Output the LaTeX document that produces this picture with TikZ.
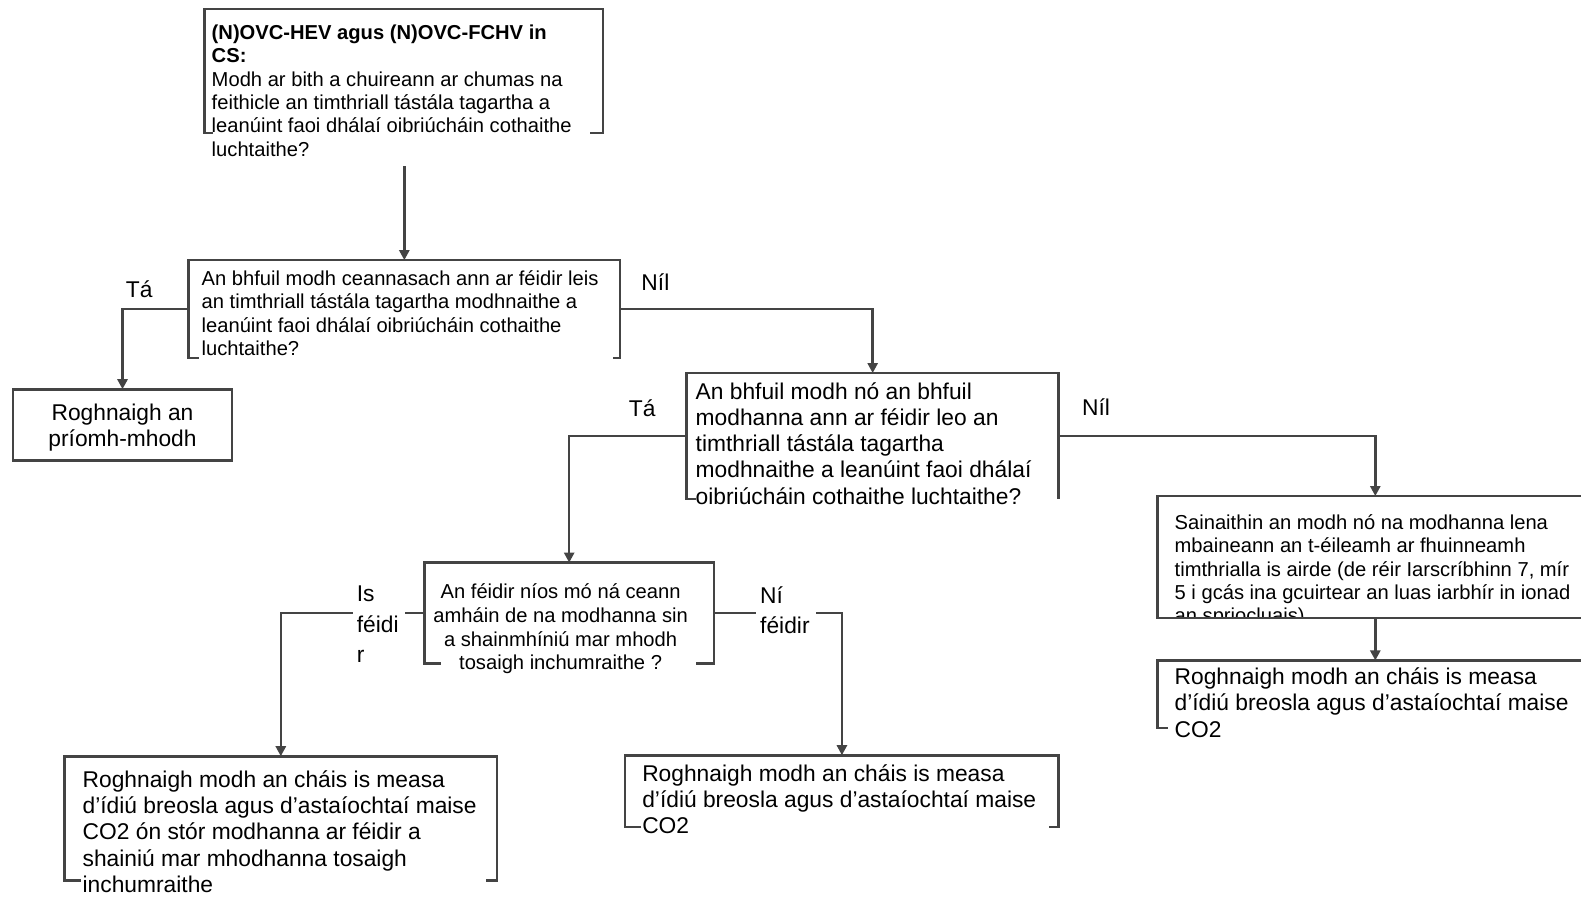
\documentclass[tikz,border=0pt]{standalone}
\usepackage{fontspec}
\setmainfont{Liberation Sans}
\usetikzlibrary{arrows.meta,calc,fit}
\definecolor{lc}{RGB}{68,68,68}
\newcommand\fA{\fontsize{10.08pt}{11.7pt}\selectfont}
\newcommand\fB{\fontsize{11.39pt}{13.1pt}\selectfont}
\newcommand\fC{\fontsize{10.08pt}{11.84pt}\selectfont}
\newcommand\tb[2]{\parbox[t]{#1}{\raggedright #2}}
\newcommand\tc[2]{\parbox[t]{#1}{\centering #2}}
\newcommand\openbox[3]{\draw[ln] ($(#1.south west)+(#2,0)$) -- (#1.south west) -- (#1.north west) -- (#1.north east) -- (#1.south east) -- ($(#1.south east)+(-#3,0)$);}
\begin{document}
\begin{tikzpicture}[x=0.504pt,y=-0.504pt,
  ln/.style={draw=lc, line width=1.3pt},
  arr/.style={ln, -{Triangle[length=5pt,width=5pt]}},
  area/.style={inner sep=0pt, outer sep=0pt},
  txt/.style={inner sep=0pt, outer sep=0pt, anchor=base west, text=black},
  lab/.style={inner sep=0pt, text=black, font=\fB},
  cut/.style={fill=white, inner xsep=2pt, inner ysep=0pt, outer sep=0pt, anchor=base west, text=black, font=\fB}]
\useasboundingbox (0,0) rectangle (1568,889);
\clip (0,0) rectangle (1568,889);
\fill[white] (0,0) rectangle (1568,889);
% box areas
\node[area, fit={(203,9)(598,132)}] (b1) {};
\node[area, fit={(187,258)(615,355)}] (b2) {};
\node[area, fit={(13,386)(230,457)}] (r1) {};
\node[area, fit={(681,370)(1050,495)}] (b3) {};
\node[area, fit={(1148,492)(1580,613)}] (b5) {};
\node[area, fit={(1148,655)(1580,722)}] (b6) {};
\node[area, fit={(421,558)(708,658)}] (b4) {};
\node[area, fit={(64,750)(493,873)}] (b7) {};
\node[area, fit={(620,749)(1050,820)}] (b8) {};
% borders
\openbox{b1}{8}{13}
\openbox{b2}{10}{7}
\draw[ln] (r1.south west) rectangle (r1.north east);
\openbox{b3}{9}{0}
\draw[ln] (b5.south west) rectangle (b5.north east);
\openbox{b6}{10}{0}
\openbox{b4}{16}{18}
\openbox{b7}{16}{11}
\openbox{b8}{16}{10}
% texts
\node[txt, font=\fA] (t1) at (210,39) {\tb{210pt}{\textbf{(N)OVC-HEV agus (N)OVC-FCHV in}\\\textbf{CS:}\\Modh ar bith a chuireann ar chumas na\\feithicle an timthriall tástála tagartha a\\leanúint faoi dhálaí oibriúcháin cothaithe\\luchtaithe?}};
\node[txt, font=\fA] (t2) at (200,283) {\tb{220pt}{An bhfuil modh ceannasach ann ar féidir leis\\an timthriall tástála tagartha modhnaithe a\\leanúint faoi dhálaí oibriúcháin cothaithe\\luchtaithe?}};
\node[txt, font=\fB, anchor=base] (tr1) at (121.5,417) {\tc{100pt}{Roghnaigh an\\príomh-mhodh}};
\node[txt, font=\fB] (t3) at (690,396) {\tb{190pt}{An bhfuil modh nó an bhfuil\\modhanna ann ar féidir leo an\\timthriall tástála tagartha\\modhnaithe a leanúint faoi dhálaí\\oibriúcháin cothaithe luchtaithe?}};
\begin{scope}
\clip (1140,480) rectangle (1580,611);
\node[txt, font=\fA] (t5) at (1165,525) {\tb{210pt}{Sainaithin an modh nó na modhanna lena\\mbaineann an t-éileamh ar fhuinneamh\\timthrialla is airde (de réir Iarscríbhinn 7, mír\\5 i gcás ina gcuirtear an luas iarbhír in ionad\\an spriocluais)}};
\end{scope}
\node[txt, font=\fB] (t6) at (1165,679) {\tb{210pt}{Roghnaigh modh an cháis is measa\\d’ídiú breosla agus d’astaíochtaí maise\\CO2}};
\node[txt, font=\fC, anchor=base] (t4) at (556,594) {\tc{145pt}{An féidir níos mó ná ceann\\amháin de na modhanna sin\\a shainmhíniú mar mhodh\\tosaigh inchumraithe ?}};
\node[txt, font=\fB] (t7) at (82,781) {\tb{210pt}{Roghnaigh modh an cháis is measa\\d’ídiú breosla agus d’astaíochtaí maise\\CO2 ón stór modhanna ar féidir a\\shainiú mar mhodhanna tosaigh\\inchumraithe}};
\node[txt, font=\fB] (t8) at (637,775) {\tb{210pt}{Roghnaigh modh an cháis is measa\\d’ídiú breosla agus d’astaíochtaí maise\\CO2}};
% connectors
\coordinate (c1) at (401,165);
\draw[arr] (c1) -- (b2.north);
\draw[arr] (b2.west) -| (r1.north);
\draw[arr] (b2.east) -| (b3.north);
\draw[arr] (b3.west) -| (b4.north);
\draw[arr] (b3.east) -| (b5.north);
\draw[arr] (b5.south) -- (b6.north);
\draw[arr] (b4.west) -| (b7.north);
\draw[arr] (b4.east) -| (b8.north);
% labels
\node[lab] (l1) at (138,287) {Tá};
\node[lab] (l2) at (650,280) {Níl};
\node[lab] (l3) at (637,405) {Tá};
\node[lab] (l4) at (1087,404) {Níl};
\node[cut] (l5) at (350,597) {\fontsize{11.39pt}{15.1pt}\selectfont\tb{22pt}{Is\\féidi\\r}};
\node[cut] (l6) at (750,599) {\fontsize{11.39pt}{14.6pt}\selectfont\tb{26pt}{Ní\\féidir}};
\end{tikzpicture}
\end{document}
